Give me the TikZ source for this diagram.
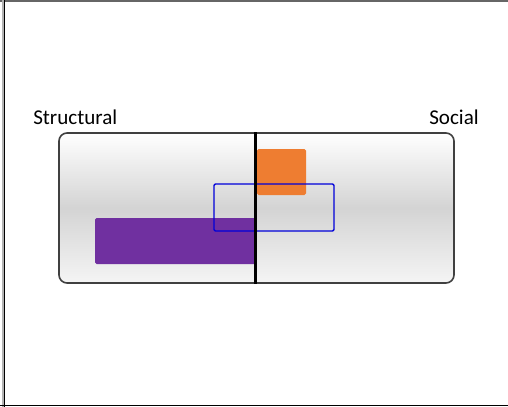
\documentclass[tikz,border=0pt]{standalone}
\usepackage{fontspec}
\setmainfont{Carlito}
\begin{document}
\begin{tikzpicture}[x=0.75pt,y=-0.75pt,
  lbl/.style={font=\fontsize{15.8}{18}\selectfont, inner sep=0pt, anchor=base west},
  bar/.style={draw=none, rounded corners=1.2pt}]
\useasboundingbox (0,0) rectangle (508,407);
\fill[white] (0,0) rectangle (508,407);
% frame lines
\draw[gray!80!black, line width=1.4pt] (0,0.7) -- (508,0.7);
\draw[gray!60, line width=1pt] (3,0) -- (3,407);
\draw[black, line width=1.2pt] (4.6,0) -- (4.6,407);
\draw[black, line width=1.4pt] (0,405.5) -- (508,405.5);
% labels
\node[lbl] (structural) at (33,124) {Structural};
\node[lbl, anchor=base east] (social) at (479,124) {Social};
% main panel
\shade[rounded corners=6pt, top color=white, bottom color=white!96!black, middle color=black!17]
  (59,133) rectangle (454,283);
\draw[black!75, line width=1.2pt, rounded corners=6pt] (59,133) rectangle (454,283);
% bars
\fill[bar, fill={rgb,255:red,238;green,125;blue,49}] (257,149) rectangle (306,195);
\fill[bar, fill={rgb,255:red,112;green,48;blue,160}] (95,218) rectangle (256,264);
\draw[blue!85!black, line width=1.1pt, rounded corners=1pt] (214,184) rectangle (334,231);
% divider
\coordinate (dtop) at (255.5,132);
\coordinate (dbot) at (255.5,284);
\draw[black, line width=2.4pt] (dtop) -- (dbot);
\end{tikzpicture}
\end{document}
